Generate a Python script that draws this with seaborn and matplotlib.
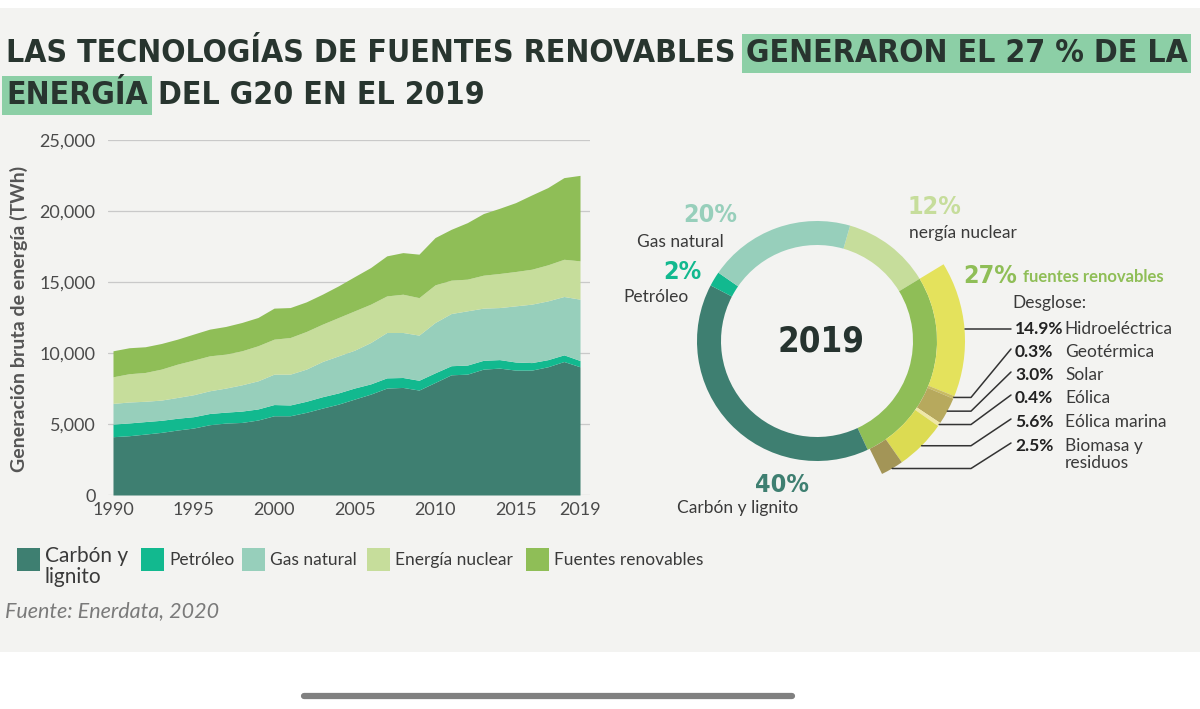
import os
import re
import matplotlib
matplotlib.use("Agg")
import matplotlib.pyplot as plt
import seaborn as sns
import pandas as pd
import numpy as np
from matplotlib.patches import Rectangle
from matplotlib import font_manager as fm

# ---------------- data ----------------
years = list(range(1990, 2020))
carbon_lignito = [4105, 4175, 4290, 4410, 4575, 4715, 4950, 5065, 5110, 5280,
                  5580, 5580, 5820, 6120, 6400, 6755, 7105, 7530, 7575, 7390,
                  7925, 8465, 8510, 8865, 8935, 8795, 8795, 9030, 9400, 9030]
petroleo = [890, 900, 880, 850, 830, 800, 790, 770, 800, 780,
            790, 760, 780, 800, 790, 780, 720, 720, 700, 690,
            680, 640, 640, 620, 600, 570, 530, 500, 470, 440]
gas_natural = [1455, 1475, 1430, 1425, 1465, 1545, 1600, 1695, 1850, 1980,
               2140, 2170, 2265, 2480, 2610, 2665, 2915, 3195, 3170, 3180,
               3545, 3675, 3820, 3675, 3665, 3955, 4115, 4140, 4110, 4320]
energia_nuclear = [1875, 1990, 2030, 2180, 2345, 2440, 2460, 2390, 2395, 2470,
                   2465, 2580, 2650, 2630, 2700, 2770, 2700, 2575, 2695, 2640,
                   2650, 2350, 2230, 2320, 2400, 2420, 2460, 2540, 2620, 2700]
fuentes_renovables = [1830, 1830, 1810, 1805, 1760, 1830, 1880, 1950, 1995, 1990,
                      2185, 2110, 2085, 2110, 2230, 2410, 2580, 2820, 2930, 3060,
                      3330, 3580, 3980, 4340, 4590, 4850, 5230, 5440, 5750, 6020]

legend_labels = ["Carbón y\nlignito", "Petróleo", "Gas natural", "Energía nuclear", "Fuentes renovables"]
series_colors = ["#3e7f71", "#12b98f", "#97cfbb", "#c6dd9b", "#8fbe57"]

x_ticks = [1990, 1995, 2000, 2005, 2010, 2015, 2019]
y_ticks = [0, 5000, 10000, 15000, 20000, 25000]

# donut 2019 (clockwise from nuclear)
donut_names = ["nergía nuclear", "fuentes renovables", "Carbón y lignito", "Petróleo", "Gas natural"]
donut_pct = [12, 27, 40, 2, 20]
donut_colors = ["#c6dd9b", "#8fbe57", "#3e7f71", "#12b98f", "#97cfbb"]

breakdown_pct = [14.9, 0.3, 3.0, 0.4, 5.6, 2.5]
breakdown_names = ["Hidroeléctrica", "Geotérmica", "Solar", "Eólica", "Eólica marina", "Biomasa y\nresiduos"]
breakdown_colors = ["#e4e25c", "#c9bb63", "#b7a95d", "#efe7a6", "#dcdb52", "#a39557"]

# ---------------- style ----------------
sns.set_theme(style="white")
BODY = ["Lato", "DejaVu Sans"]
plt.rcParams["font.family"] = BODY
TXT = "#3a3a3a"
W, H = 1200, 709

# find a condensed bold face for the headline font
def find_condensed_bold():
    pats = [r"LiberationSansNarrow-Bold\.", r"DejaVuSansCondensed-Bold\.",
            r"RobotoCondensed-Bold\.", r"Condensed-?Bold\.", r"Narrow-?Bold\.",
            r"SemiCondensed-Bold\."]
    files = [f.fname for f in fm.fontManager.ttflist]
    for p in pats:
        for fn in files:
            if re.search(p, os.path.basename(fn), re.I) and "Oblique" not in fn and "Italic" not in fn:
                return fn
    return None

cpath = find_condensed_bold()
if cpath:
    NP = fm.FontProperties(fname=cpath)
else:
    NP = fm.FontProperties(family="DejaVu Sans", weight="bold", stretch="condensed")

def narrow(size):
    p = NP.copy()
    p.set_size(size)
    if not cpath:
        p.set_weight("bold")
    return p

fig = plt.figure(figsize=(W / 100, H / 100), dpi=100, facecolor="white")

# background layer in pixel coordinates (y up)
ov = fig.add_axes([0, 0, 1, 1], zorder=0)
ov.set_xlim(0, W)
ov.set_ylim(0, H)
ov.axis("off")
ov.patch.set_alpha(0)
def Y(ypx):
    return H - ypx

ov.add_patch(Rectangle((0, Y(652)), W, 644, fc="#f3f3f1", ec="none", zorder=0))
ov.plot([304, 792], [Y(696), Y(696)], color="#808080", lw=4.5, solid_capstyle="round")

# ---------------- title ----------------
renderer = fig.canvas.get_renderer()
def measure(s, size):
    t = ov.text(0, 0, s, fontproperties=narrow(size))
    w = t.get_window_extent(renderer=renderer).width
    t.remove()
    return w

l1a = "LAS TECNOLOGÍAS DE FUENTES RENOVABLES"
l1b = "GENERARON EL 27 % DE LA"
l2a = "ENERGÍA"
l2b = "DEL G20 EN EL 2019"
base = 26
wfull = measure(l1a + " " + l1b, base)
tsize = min(30, base * (1188 - 6) / wfull)
TCOL = "#28352f"
HL = "#8ccfa6"
x0 = 6
ov.text(x0, Y(62), l1a, fontproperties=narrow(tsize), color=TCOL, va="baseline", zorder=3)
xb = x0 + measure(l1a + " " + l1b, tsize) - measure(l1b, tsize)
ov.text(xb, Y(62), l1b, fontproperties=narrow(tsize), color=TCOL, va="baseline", zorder=3,
        bbox=dict(boxstyle="square,pad=0.12", fc=HL, ec="none"))
ov.text(x0, Y(104), l2a, fontproperties=narrow(tsize), color=TCOL, va="baseline", zorder=3,
        bbox=dict(boxstyle="square,pad=0.12", fc=HL, ec="none"))
xb2 = x0 + measure(l2a + " " + l2b, tsize) - measure(l2b, tsize)
ov.text(xb2, Y(104), l2b, fontproperties=narrow(tsize), color=TCOL, va="baseline", zorder=3)

# ---------------- area chart ----------------
df = pd.DataFrame({"year": years, "c": carbon_lignito, "p": petroleo, "g": gas_natural,
                   "n": energia_nuclear, "r": fuentes_renovables})
ax = fig.add_axes([108 / W, 1 - 495 / H, (590 - 108) / W, (495 - 140) / H], zorder=1)
ax.patch.set_alpha(0)
ax.stackplot(df["year"], df["c"], df["p"], df["g"], df["n"], df["r"],
             colors=series_colors, linewidth=0, zorder=2)
ax.set_xlim(1989.69, 2019.62)
ax.set_ylim(0, 25000)
ax.set_xticks(x_ticks)
ax.set_xticklabels([str(v) for v in x_ticks])
ax.set_yticks(y_ticks)
ax.set_yticklabels([f"{v:,}" for v in y_ticks])
ax.yaxis.grid(True, color="#c9c9c9", lw=0.9)
ax.xaxis.grid(False)
ax.set_axisbelow(True)
sns.despine(ax=ax, left=True, bottom=True)
ax.tick_params(axis="both", length=0, labelsize=13, colors="#4a4a4a")
ax.tick_params(axis="y", pad=9)
ax.tick_params(axis="x", pad=5)
ov.text(19, Y(319), "Generación bruta de energía (TWh)", rotation=90, ha="center", va="center",
        fontsize=14, fontweight="bold", color="#555555")

# legend
leg_sq_x = [17, 141, 242, 367, 526]
for i, (lab, col) in enumerate(zip(legend_labels, series_colors)):
    ov.add_patch(Rectangle((leg_sq_x[i], Y(571)), 23, 23, fc=col, ec="none", zorder=2))
    fs = 15 if i == 0 else 12.5
    ov.text(leg_sq_x[i] + 28, Y(546) if i == 0 else Y(560), lab, fontsize=fs, color=TXT,
            va="top" if i == 0 else "center", ha="left", linespacing=1.05)

ov.text(5, Y(611), "Fuente: Enerdata, 2020", fontsize=15.5, style="italic", color="#7a7a7a", va="center")

# ---------------- donut ----------------
cx, cy = 817, 341
R1, w1 = 120, 24
R2, w2 = 148, 28
theta0 = 16.0
total = float(sum(donut_pct))
ov.pie(donut_pct, colors=donut_colors, radius=R1, center=(cx, Y(cy)), startangle=90 - theta0,
       counterclock=False, wedgeprops=dict(width=w1, linewidth=0), frame=True)
theta1 = theta0 + donut_pct[0] / total * 360
ov.pie([v / total for v in breakdown_pct], colors=breakdown_colors, radius=R2, center=(cx, Y(cy)),
       startangle=90 - theta1, counterclock=False, normalize=False,
       wedgeprops=dict(width=w2, linewidth=0), frame=True)
ov.set_xlim(0, W)
ov.set_ylim(0, H)
ov.set_aspect("auto")
ov.axis("off")

ov.text(821, Y(342), "2019", fontproperties=narrow(25), color="#26332f", ha="center", va="center")

def pct_lab(x, y, s, col, ha):
    ov.text(x, Y(y), s, fontproperties=narrow(18), color=col, ha=ha, va="center")
def name_lab(x, y, s, ha):
    ov.text(x, Y(y), s, fontsize=12.5, color=TXT, ha=ha, va="center")

pct_lab(710, 215, f"{donut_pct[4]}%", donut_colors[4], "center")
name_lab(724, 242, donut_names[4], "right")
pct_lab(682, 272, f"{donut_pct[3]}%", donut_colors[3], "center")
name_lab(689, 297, donut_names[3], "right")
pct_lab(908, 207, f"{donut_pct[0]}%", donut_colors[0], "left")
name_lab(909, 233, donut_names[0], "left")
pct_lab(782, 485, f"{donut_pct[2]}%", donut_colors[2], "center")
name_lab(738, 508, donut_names[2], "center")
t27 = ov.text(963, Y(276), f"{donut_pct[1]}%", fontproperties=narrow(18), color=donut_colors[1],
              ha="left", va="center")
w27 = t27.get_window_extent(renderer=renderer).width
ov.text(963 + w27 + 6, Y(277), donut_names[1], fontsize=12, fontweight="bold", color=donut_colors[1],
        ha="left", va="center")
name_lab(1012, 303, "Desglose:", "left")

rows = [331, 354, 377, 400, 424, 448]
cum = 0.0
for i, (p, nm) in enumerate(zip(breakdown_pct, breakdown_names)):
    th = np.deg2rad(theta1 + (cum + p / 2) / total * 360)
    cum += p
    ax_x = cx + R2 * np.sin(th)
    ax_y = cy - R2 * np.cos(th)
    ry = rows[i]
    if i == 0:
        ov.plot([ax_x, 1011], [Y(ax_y), Y(ax_y)], color="#333333", lw=1.1)
    else:
        ov.plot([ax_x, 971, 1011], [Y(ax_y), Y(ax_y), Y(ry - 5)], color="#333333", lw=1.1)
    ov.text(1015, Y(ry - 10), f"{p:.1f}%", fontsize=12.5, fontweight="bold", color="#222222",
            ha="left", va="top")
    ov.text(1065 if i else 1064, Y(ry - 10), nm, fontsize=12.5, color=TXT, ha="left", va="top",
            linespacing=1.05)

fig.savefig("out.png", dpi=100, facecolor="white")
